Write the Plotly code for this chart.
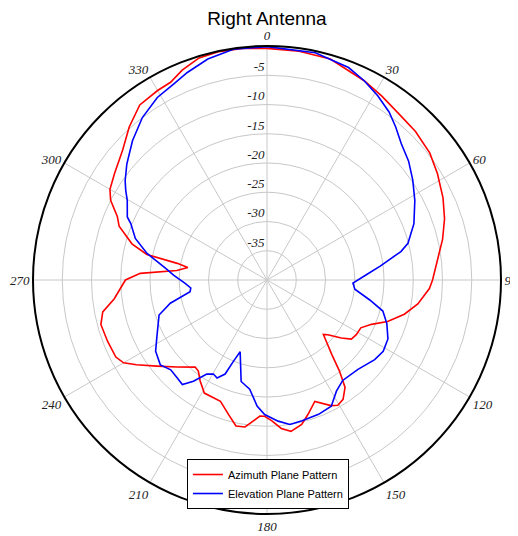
import plotly.graph_objects as go

# Azimuth plane pattern (red)
az_theta = [0, 8, 16, 26, 32, 38, 45, 52, 58, 65, 71, 77, 83, 90, 93, 99, 104, 109, 113, 117,
            121.5, 125, 128, 132, 134, 139, 141.5, 144, 147.5, 150.5, 153, 158.5, 163, 166.5,
            171, 174.5, 178, 181, 183, 185.5, 188.5, 192, 196, 201, 209, 213.5, 217, 219.5,
            226, 232, 237, 240, 243, 249, 255, 259, 263, 270, 273, 276, 279, 280.5, 282, 285,
            290, 293, 297, 300, 305, 312, 318, 324, 330, 334, 338, 343, 348, 354, 360]
az_db = [-0.4, -0.5, -0.7, -2.1, -2.95, -3.7, -4.1, -4.7, -5.65, -6.8, -7.9, -9.2, -10.6, -11.7,
         -12.2, -13.9, -15.8, -18.2, -20.6, -22.0, -22.1, -22.4, -23.9, -26.0, -26.6, -23.1, -20.1,
         -17.3, -15.8, -15.4, -15.9, -17.7, -16.0, -14.6, -13.8, -14.5, -15.9, -16.7, -16.7, -15.8,
         -14.6, -14.5, -16.1, -17.8, -17.9, -19.3, -20.5, -20.7, -18.6, -16.1, -13.4, -11.7, -11.0,
         -10.8, -10.6, -11.4, -13.7, -15.8, -18.3, -24.5, -26.3, -24.4, -19.0, -16.1, -13.1, -12.2,
         -10.0, -9.0, -8.2, -6.8, -4.8, -3.0, -2.6, -2.4, -1.3, -0.3, -0.1, -0.2, -0.4]

# Elevation plane pattern (blue)
el_theta = [0, 12, 21, 26, 31, 36, 40, 44.6, 50, 55.6, 61.7, 69, 75.4, 78, 83, 87, 92, 96, 101,
            105, 110, 116, 121.5, 126.5, 134.5, 143, 148, 153, 159, 166, 171, 175.5, 181, 184.5,
            189, 194.3, 200.5, 202.4, 204, 207, 209.7, 212.6, 216, 219, 222.6, 227, 231.5, 237.4,
            243.5, 252, 256.5, 261.4, 264, 267.7, 273, 276, 282.5, 287.5, 292.5, 294.3, 299.7,
            302.4, 305, 309.6, 316, 322.5, 329, 334.5, 339, 345, 351.7, 360]
el_db = [-0.1, -0.3, -1.1, -2.1, -3.25, -4.5, -5.8, -7.3, -8.4, -9.8, -11.3, -13.1, -15.1, -16.6,
         -20.5, -23.0, -25.3, -24.9, -22.1, -19.5, -18.2, -17.0, -16.7, -17.1, -18.2, -18.5, -17.6,
         -15.8, -15.4, -15.2, -15.0, -15.8, -17.0, -18.4, -21.1, -22.1, -26.9, -25.0, -22.4, -21.2,
         -21.5, -20.9, -18.6, -17.0, -17.3, -17.5, -16.7, -17.4, -19.0, -20.6, -23.0, -26.7, -26.9,
         -26.0, -24.0, -22.8, -19.0, -16.4, -14.8, -13.8, -12.5, -11.4, -10.4, -8.9, -6.9, -5.0,
         -3.6, -2.9, -2.0, -0.9, -0.15, -0.1]

angle_ticks = [0, 30, 60, 90, 120, 150, 180, 210, 240, 270, 300, 330]
radial_ticks = [-35, -30, -25, -20, -15, -10, -5]

fig = go.Figure()
fig.add_trace(go.Scatterpolar(theta=az_theta, r=az_db, mode="lines",
                              line=dict(color="#ff0000", width=1.6),
                              name="Azimuth Plane Pattern"))
fig.add_trace(go.Scatterpolar(theta=el_theta, r=el_db, mode="lines",
                              line=dict(color="#0000ff", width=1.6),
                              name="Elevation Plane Pattern"))

tickfont = dict(family="Liberation Serif", size=13, color="#222222", style="italic")

fig.update_layout(
    width=510, height=528,
    margin=dict(l=25, r=17, t=38, b=22),
    paper_bgcolor="white",
    title=dict(text="Right Antenna", xref="paper", x=0.5, xanchor="center",
               y=0.981, yanchor="middle",
               font=dict(family="Liberation Sans", size=19, color="black")),
    polar=dict(
        bgcolor="white",
        domain=dict(x=[0, 1], y=[0, 1]),
        angularaxis=dict(direction="clockwise", rotation=90,
                         tickvals=angle_ticks, ticktext=[str(a) for a in angle_ticks],
                         tickfont=tickfont, ticks="",
                         showline=True, linecolor="black", linewidth=2,
                         gridcolor="#c8c8c8", gridwidth=1),
        radialaxis=dict(range=[-40, 0], tickvals=radial_ticks,
                        ticktext=[f"{v}<br> " for v in radial_ticks],
                        angle=90, tickangle=90, side="counterclockwise",
                        tickfont=tickfont, ticks="", showline=False,
                        gridcolor="#c8c8c8", gridwidth=1),
    ),
    showlegend=True,
    legend=dict(x=0.502, xanchor="center", y=0.1175, yanchor="top",
                bgcolor="white", bordercolor="black", borderwidth=1,
                font=dict(family="Liberation Sans", size=11, color="black"),
                tracegroupgap=0, itemwidth=30),
)

fig.write_html("out.html",
               post_script="document.documentElement.style.overflow='hidden';"
                           "document.body.style.overflow='hidden';")
